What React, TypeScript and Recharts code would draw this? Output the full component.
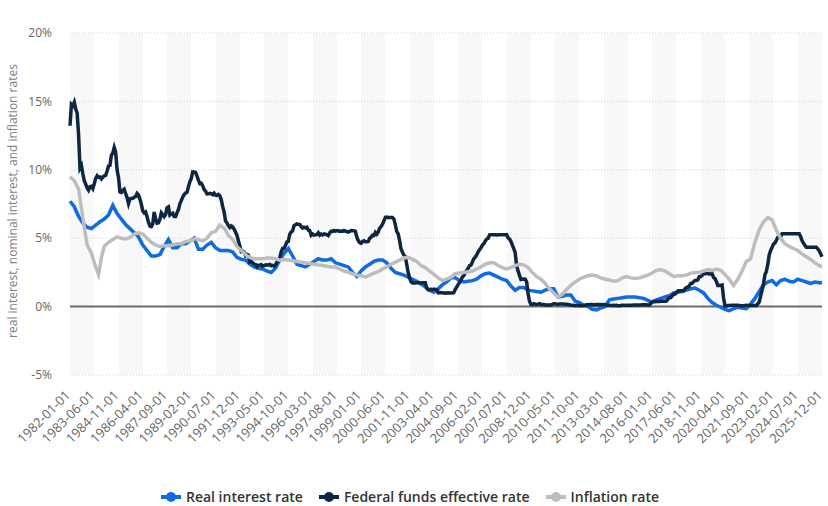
import { LineChart, Line, XAxis, YAxis, CartesianGrid, ReferenceLine } from "recharts";

const BLUE = "#0f6be2";
const NAVY = "#0d2642";
const GREY = "#bdbdbd";
const FONT = "'Open Sans', 'DejaVu Sans', sans-serif";

const tickLabels = [
  "1982-01-01", "1983-06-01", "1984-11-01", "1986-04-01", "1987-09-01", "1989-02-01",
  "1990-07-01", "1991-12-01", "1993-05-01", "1994-10-01", "1996-03-01", "1997-08-01",
  "1999-01-01", "2000-06-01", "2001-11-01", "2003-04-01", "2004-09-01", "2006-02-01",
  "2007-07-01", "2008-12-01", "2010-05-01", "2011-10-01", "2013-03-01", "2014-08-01",
  "2016-01-01", "2017-06-01", "2018-11-01", "2020-04-01", "2021-09-01", "2023-02-01",
  "2024-07-01", "2025-12-01",
];

const yTicks = [-5, 0, 5, 10, 15, 20];

// federal funds effective rate, monthly from 1982-01
const fedFunds = [
  13.22, 14.78, 14.68, 14.94, 14.45, 14.15, 12.59, 10.12, 10.31, 9.71, 9.2, 8.95,
  8.68, 8.51, 8.77, 8.8, 8.63, 8.98, 9.37, 9.56, 9.45, 9.48, 9.34, 9.47,
  9.56, 9.59, 9.91, 10.29, 10.32, 11.06, 11.23, 11.64, 11.3, 9.99, 9.43, 8.38,
  8.35, 8.5, 8.58, 8.27, 7.97, 7.53, 7.88, 7.9, 7.92, 7.99, 8.05, 8.27,
  8.14, 7.86, 7.48, 6.99, 6.85, 6.92, 6.56, 6.17, 5.89, 5.85, 6.04, 6.91,
  6.43, 6.1, 6.13, 6.37, 6.85, 6.73, 6.58, 6.73, 7.22, 7.29, 6.69, 6.77,
  6.83, 6.58, 6.58, 6.87, 7.09, 7.51, 7.75, 8.01, 8.19, 8.3, 8.35, 8.76,
  9.12, 9.36, 9.85, 9.84, 9.81, 9.53, 9.24, 8.99, 9.02, 8.84, 8.55, 8.45,
  8.23, 8.24, 8.28, 8.26, 8.18, 8.29, 8.15, 8.13, 8.2, 8.11, 7.81, 7.31,
  6.91, 6.25, 6.12, 5.91, 5.78, 5.9, 5.82, 5.66, 5.45, 5.21, 4.81, 4.43,
  4.03, 4.06, 3.98, 3.73, 3.82, 3.76, 3.25, 3.3, 3.22, 3.1, 3.09, 2.92,
  3.02, 3.03, 3.07, 2.96, 3.0, 3.04, 3.06, 3.03, 3.09, 2.99, 3.02, 2.96,
  3.05, 3.25, 3.34, 3.56, 4.01, 4.25, 4.26, 4.47, 4.73, 4.76, 5.29, 5.45,
  5.53, 5.92, 5.98, 6.05, 6.01, 6.0, 5.85, 5.74, 5.8, 5.76, 5.8, 5.6,
  5.56, 5.22, 5.31, 5.22, 5.24, 5.27, 5.4, 5.22, 5.3, 5.24, 5.31, 5.29,
  5.25, 5.19, 5.39, 5.51, 5.5, 5.56, 5.52, 5.54, 5.54, 5.5, 5.52, 5.5,
  5.56, 5.51, 5.49, 5.45, 5.49, 5.56, 5.54, 5.55, 5.51, 5.07, 4.83, 4.68,
  4.63, 4.76, 4.81, 4.74, 4.74, 4.76, 4.99, 5.07, 5.22, 5.2, 5.42, 5.3,
  5.45, 5.73, 5.85, 6.02, 6.27, 6.53, 6.54, 6.5, 6.52, 6.51, 6.51, 6.4,
  5.98, 5.49, 5.31, 4.8, 4.21, 3.97, 3.77, 3.65, 3.07, 2.49, 2.09, 1.82,
  1.73, 1.74, 1.73, 1.75, 1.75, 1.75, 1.73, 1.74, 1.75, 1.75, 1.34, 1.24,
  1.24, 1.26, 1.25, 1.26, 1.26, 1.22, 1.01, 1.03, 1.01, 1.01, 1.0, 0.98,
  1.0, 1.01, 1.0, 1.0, 1.0, 1.03, 1.26, 1.43, 1.61, 1.76, 1.93, 2.16,
  2.28, 2.5, 2.63, 2.79, 3.0, 3.04, 3.26, 3.5, 3.62, 3.78, 4.0, 4.16,
  4.29, 4.49, 4.59, 4.79, 4.94, 4.99, 5.24, 5.25, 5.25, 5.25, 5.25, 5.24,
  5.25, 5.26, 5.26, 5.25, 5.25, 5.25, 5.26, 5.02, 4.94, 4.76, 4.49, 4.24,
  3.94, 2.98, 2.61, 2.28, 1.98, 2.0, 2.01, 2.0, 1.81, 0.97, 0.39, 0.16,
  0.15, 0.22, 0.18, 0.15, 0.18, 0.21, 0.16, 0.16, 0.15, 0.12, 0.12, 0.12,
  0.11, 0.13, 0.16, 0.2, 0.2, 0.18, 0.18, 0.19, 0.19, 0.19, 0.19, 0.18,
  0.17, 0.16, 0.14, 0.1, 0.09, 0.09, 0.07, 0.1, 0.08, 0.07, 0.08, 0.07,
  0.08, 0.1, 0.13, 0.14, 0.16, 0.16, 0.16, 0.13, 0.14, 0.16, 0.16, 0.16,
  0.14, 0.15, 0.14, 0.15, 0.11, 0.09, 0.09, 0.08, 0.08, 0.09, 0.08, 0.09,
  0.07, 0.07, 0.08, 0.09, 0.09, 0.1, 0.09, 0.09, 0.09, 0.09, 0.09, 0.12,
  0.11, 0.11, 0.11, 0.12, 0.12, 0.13, 0.13, 0.14, 0.14, 0.12, 0.12, 0.24,
  0.34, 0.38, 0.36, 0.37, 0.37, 0.38, 0.39, 0.4, 0.4, 0.4, 0.41, 0.54,
  0.65, 0.66, 0.79, 0.9, 0.91, 1.04, 1.15, 1.16, 1.15, 1.15, 1.16, 1.3,
  1.41, 1.42, 1.51, 1.69, 1.7, 1.82, 1.91, 1.91, 1.95, 2.19, 2.2, 2.27,
  2.4, 2.4, 2.41, 2.42, 2.39, 2.38, 2.4, 2.13, 2.04, 1.83, 1.55, 1.55,
  1.55, 1.58, 0.65, 0.05, 0.05, 0.08, 0.09, 0.1, 0.09, 0.09, 0.09, 0.09,
  0.09, 0.08, 0.07, 0.07, 0.06, 0.08, 0.1, 0.09, 0.08, 0.08, 0.08, 0.08,
  0.08, 0.08, 0.2, 0.33, 0.77, 1.21, 1.68, 2.33, 2.56, 3.08, 3.78, 4.1,
  4.33, 4.57, 4.65, 4.83, 5.06, 5.08, 5.12, 5.33, 5.33, 5.33, 5.33, 5.33,
  5.33, 5.33, 5.33, 5.33, 5.33, 5.33, 5.33, 5.33, 5.13, 4.83, 4.64, 4.48,
  4.33, 4.33, 4.33, 4.33, 4.33, 4.33, 4.33, 4.33, 4.22, 4.09, 3.88, 3.64,
];

// real interest rate
const realRate: [string, number][] = [
  ["1982-01", 7.7], ["1982-04", 7.3], ["1982-07", 6.6], ["1982-10", 6.1],
  ["1983-01", 5.8], ["1983-04", 5.7], ["1983-07", 5.95], ["1983-10", 6.2],
  ["1984-01", 6.4], ["1984-04", 6.7], ["1984-07", 7.4], ["1984-10", 6.8],
  ["1985-01", 6.4], ["1985-04", 6.0], ["1985-07", 5.7], ["1985-10", 5.4],
  ["1986-01", 5.1], ["1986-04", 4.5], ["1986-07", 4.1], ["1986-10", 3.7],
  ["1987-01", 3.7], ["1987-04", 3.8], ["1987-07", 4.4], ["1987-10", 4.9],
  ["1988-01", 4.3], ["1988-04", 4.3], ["1988-07", 4.6], ["1988-10", 4.6],
  ["1989-01", 4.8], ["1989-04", 5.0], ["1989-07", 4.2], ["1989-10", 4.2],
  ["1990-01", 4.5], ["1990-04", 4.7], ["1990-07", 4.3], ["1990-10", 4.1],
  ["1991-01", 4.1], ["1991-04", 4.1], ["1991-07", 4.0], ["1991-10", 3.6],
  ["1992-01", 3.45], ["1992-04", 3.4], ["1992-07", 3.1], ["1992-10", 2.9],
  ["1993-01", 2.8], ["1993-04", 2.75], ["1993-07", 2.6], ["1993-10", 2.5],
  ["1994-01", 2.8], ["1994-04", 3.4], ["1994-07", 3.9], ["1994-10", 4.25],
  ["1995-01", 3.7], ["1995-04", 3.1], ["1995-07", 3.0], ["1995-10", 2.9],
  ["1996-01", 3.1], ["1996-04", 3.3], ["1996-07", 3.5], ["1996-10", 3.4],
  ["1997-01", 3.4], ["1997-04", 3.5], ["1997-07", 3.2], ["1997-10", 3.1],
  ["1998-01", 3.0], ["1998-04", 2.9], ["1998-07", 2.5], ["1998-10", 2.2],
  ["1999-01", 2.6], ["1999-04", 2.9], ["1999-07", 3.1], ["1999-10", 3.3],
  ["2000-01", 3.4], ["2000-04", 3.4], ["2000-07", 3.2], ["2000-10", 2.8],
  ["2001-01", 2.5], ["2001-04", 2.4], ["2001-07", 2.3], ["2001-10", 2.15],
  ["2002-01", 2.0], ["2002-04", 1.85], ["2002-07", 1.65], ["2002-10", 1.45],
  ["2003-01", 1.2], ["2003-04", 1.05], ["2003-07", 1.3], ["2003-10", 1.6],
  ["2004-01", 1.8], ["2004-04", 2.1], ["2004-07", 2.1], ["2004-10", 1.9],
  ["2005-01", 1.8], ["2005-04", 1.85], ["2005-07", 1.9], ["2005-10", 2.0],
  ["2006-01", 2.25], ["2006-04", 2.4], ["2006-07", 2.45], ["2006-10", 2.3],
  ["2007-01", 2.15], ["2007-04", 2.0], ["2007-07", 1.9], ["2007-10", 1.5],
  ["2008-01", 1.2], ["2008-04", 1.4], ["2008-07", 1.4], ["2008-10", 1.2],
  ["2009-01", 1.15], ["2009-04", 1.1], ["2009-07", 1.05], ["2009-10", 1.2],
  ["2010-01", 1.3], ["2010-04", 1.3], ["2010-07", 0.7], ["2010-10", 0.75],
  ["2011-01", 0.85], ["2011-04", 0.85], ["2011-07", 0.4], ["2011-10", 0.3],
  ["2012-01", 0.1], ["2012-04", 0.0], ["2012-07", -0.2], ["2012-10", -0.25],
  ["2013-01", -0.1], ["2013-04", 0.0], ["2013-07", 0.5], ["2013-10", 0.55],
  ["2014-01", 0.6], ["2014-04", 0.65], ["2014-07", 0.7], ["2014-10", 0.7],
  ["2015-01", 0.7], ["2015-04", 0.65], ["2015-07", 0.6], ["2015-10", 0.45],
  ["2016-01", 0.3], ["2016-04", 0.5], ["2016-07", 0.6], ["2016-10", 0.7],
  ["2017-01", 0.8], ["2017-04", 1.0], ["2017-07", 1.05], ["2017-10", 1.1],
  ["2018-01", 1.2], ["2018-04", 1.3], ["2018-07", 1.35], ["2018-10", 1.2],
  ["2019-01", 1.0], ["2019-04", 0.6], ["2019-07", 0.3], ["2019-10", 0.1],
  ["2020-01", -0.05], ["2020-04", -0.2], ["2020-07", -0.3], ["2020-10", -0.15],
  ["2021-01", -0.05], ["2021-04", -0.1], ["2021-07", -0.15], ["2021-10", 0.2],
  ["2022-01", 0.6], ["2022-04", 1.1], ["2022-07", 1.6], ["2022-10", 1.8],
  ["2023-01", 1.9], ["2023-04", 1.6], ["2023-07", 1.9], ["2023-10", 2.0],
  ["2024-01", 1.85], ["2024-04", 1.8], ["2024-07", 2.0], ["2024-10", 1.9],
  ["2025-01", 1.8], ["2025-04", 1.7], ["2025-07", 1.8], ["2025-10", 1.75],
  ["2025-12", 1.75],
];

// inflation rate
const inflation: [string, number][] = [
  ["1982-01", 9.5], ["1982-04", 9.2], ["1982-07", 8.6], ["1982-10", 6.5],
  ["1983-01", 4.5], ["1983-04", 3.9], ["1983-07", 2.9], ["1983-09", 2.35],
  ["1983-11", 3.6], ["1984-01", 4.4], ["1984-04", 4.7], ["1984-07", 4.9],
  ["1984-10", 5.1], ["1985-01", 5.0], ["1985-04", 4.95], ["1985-07", 5.05],
  ["1985-10", 5.3], ["1986-01", 5.4], ["1986-04", 5.3], ["1986-07", 5.0],
  ["1986-10", 4.7], ["1987-01", 4.5], ["1987-04", 4.4], ["1987-07", 4.45],
  ["1987-10", 4.45], ["1988-01", 4.5], ["1988-04", 4.6], ["1988-07", 4.6],
  ["1988-10", 4.75], ["1989-01", 4.8], ["1989-04", 4.95], ["1989-07", 4.9],
  ["1989-10", 4.8], ["1990-01", 5.0], ["1990-04", 5.4], ["1990-07", 5.5],
  ["1990-10", 5.95], ["1991-01", 5.75], ["1991-04", 5.2], ["1991-07", 4.9],
  ["1991-10", 4.4], ["1992-01", 4.1], ["1992-04", 3.8], ["1992-07", 3.6],
  ["1992-10", 3.5], ["1993-01", 3.5], ["1993-04", 3.5], ["1993-07", 3.55],
  ["1993-10", 3.55], ["1994-01", 3.5], ["1994-04", 3.4], ["1994-07", 3.45],
  ["1994-10", 3.4], ["1995-01", 3.35], ["1995-04", 3.3], ["1995-07", 3.25],
  ["1995-10", 3.2], ["1996-01", 3.15], ["1996-04", 3.1], ["1996-07", 3.05],
  ["1996-10", 3.0], ["1997-01", 2.95], ["1997-04", 2.9], ["1997-07", 2.9],
  ["1997-10", 2.75], ["1998-01", 2.6], ["1998-04", 2.5], ["1998-07", 2.4],
  ["1998-10", 2.3], ["1999-01", 2.25], ["1999-04", 2.15], ["1999-07", 2.3],
  ["1999-10", 2.45], ["2000-01", 2.55], ["2000-04", 2.75], ["2000-07", 2.9],
  ["2000-10", 3.1], ["2001-01", 3.25], ["2001-04", 3.4], ["2001-07", 3.55],
  ["2001-10", 3.6], ["2002-01", 3.45], ["2002-04", 3.3], ["2002-07", 3.0],
  ["2002-10", 2.85], ["2003-01", 2.6], ["2003-04", 2.35], ["2003-07", 2.1],
  ["2003-10", 1.9], ["2004-01", 2.0], ["2004-04", 2.15], ["2004-07", 2.4],
  ["2004-10", 2.45], ["2005-01", 2.5], ["2005-04", 2.55], ["2005-07", 2.6],
  ["2005-10", 2.75], ["2006-01", 2.9], ["2006-04", 3.1], ["2006-07", 3.2],
  ["2006-10", 3.2], ["2007-01", 3.0], ["2007-04", 2.85], ["2007-07", 2.75],
  ["2007-10", 2.85], ["2008-01", 3.0], ["2008-04", 3.1], ["2008-07", 3.05],
  ["2008-10", 2.85], ["2009-01", 2.5], ["2009-04", 2.2], ["2009-07", 2.0],
  ["2009-10", 1.7], ["2010-01", 1.3], ["2010-04", 1.0], ["2010-07", 0.7],
  ["2010-10", 0.9], ["2011-01", 1.25], ["2011-04", 1.55], ["2011-07", 1.8],
  ["2011-10", 2.0], ["2012-01", 2.15], ["2012-04", 2.25], ["2012-07", 2.3],
  ["2012-10", 2.25], ["2013-01", 2.1], ["2013-04", 2.0], ["2013-07", 1.95],
  ["2013-10", 1.85], ["2014-01", 1.9], ["2014-04", 2.1], ["2014-07", 2.2],
  ["2014-10", 2.1], ["2015-01", 2.05], ["2015-04", 2.1], ["2015-07", 2.2],
  ["2015-10", 2.3], ["2016-01", 2.45], ["2016-04", 2.65], ["2016-07", 2.7],
  ["2016-10", 2.6], ["2017-01", 2.4], ["2017-04", 2.2], ["2017-07", 2.25],
  ["2017-10", 2.25], ["2018-01", 2.3], ["2018-04", 2.45], ["2018-07", 2.5],
  ["2018-10", 2.5], ["2019-01", 2.6], ["2019-04", 2.7], ["2019-07", 2.65],
  ["2019-10", 2.75], ["2020-01", 2.65], ["2020-04", 2.35], ["2020-07", 2.0],
  ["2020-10", 1.55], ["2021-01", 2.0], ["2021-04", 2.6], ["2021-07", 3.3],
  ["2021-10", 3.5], ["2022-01", 4.7], ["2022-04", 5.6], ["2022-07", 6.2],
  ["2022-10", 6.5], ["2023-01", 6.35], ["2023-04", 5.6], ["2023-07", 5.0],
  ["2023-10", 4.6], ["2024-01", 4.4], ["2024-04", 4.25], ["2024-07", 4.1],
  ["2024-10", 3.85], ["2025-01", 3.65], ["2025-04", 3.45], ["2025-07", 3.2],
  ["2025-10", 3.0], ["2025-12", 2.9],
];

const monthIndex = (d: string) =>
  (Number(d.slice(0, 4)) - 1982) * 12 + Number(d.slice(5, 7)) - 1;

const fedData = fedFunds.map((v, i) => ({ m: i, v }));
const realData = realRate.map(([d, v]) => ({ m: monthIndex(d), v }));
const inflationData = inflation.map(([d, v]) => ({ m: monthIndex(d), v }));
const xTicks = tickLabels.map(monthIndex);

const legendItems = [
  { name: "Real interest rate", color: BLUE },
  { name: "Federal funds effective rate", color: NAVY },
  { name: "Inflation rate", color: GREY },
];

function XTick({ x, y, payload }: any) {
  const label = tickLabels[xTicks.indexOf(payload.value)];
  const tx = x + 1;
  const ty = y + 19;
  return (
    <text
      x={tx}
      y={ty}
      transform={`rotate(-45 ${tx} ${ty})`}
      textAnchor="end"
      fontSize={13}
      fill="#666"
      fontFamily={FONT}
    >
      {label}
    </text>
  );
}

function YTitle() {
  return (
    <text
      x={17}
      y={201}
      transform="rotate(-90 17 201)"
      textAnchor="middle"
      fontSize={12}
      fill="#808080"
      fontFamily={FONT}
    >
      real interest, nominal interest, and inflation rates
    </text>
  );
}

export default function App() {
  return (
    <div style={{ position: "absolute", left: 0, top: 0, width: 828, height: 506, background: "#fff" }}>
      <LineChart width={828} height={506} margin={{ top: 33, right: 6, bottom: 31, left: 0 }}>
        <CartesianGrid
          horizontal={false}
          stroke="transparent"
          verticalFill={["#f8f8f8", "#ffffff"]}
        />
        <CartesianGrid vertical={false} stroke="#d2d2d2" strokeDasharray="1 2" />
        <XAxis
          dataKey="m"
          type="number"
          domain={[0, 527]}
          ticks={xTicks}
          interval={0}
          tick={<XTick />}
          axisLine={false}
          tickLine={false}
          tickSize={0}
          height={100}
        />
        <YAxis
          type="number"
          domain={[-5, 20]}
          ticks={yTicks}
          tickFormatter={(v) => `${v}%`}
          tick={{ fill: "#666", fontSize: 12, fontFamily: FONT }}
          axisLine={false}
          tickLine={false}
          tickSize={6}
          tickMargin={12}
          width={70}
          label={{ content: () => <YTitle /> }}
        />
        <ReferenceLine y={0} stroke="#6b6b6b" strokeWidth={2} />
        <Line
          data={realData}
          dataKey="v"
          name="Real interest rate"
          stroke={BLUE}
          strokeWidth={3.5}
          dot={false}
          isAnimationActive={false}
        />
        <Line
          data={fedData}
          dataKey="v"
          name="Federal funds effective rate"
          stroke={NAVY}
          strokeWidth={3.5}
          dot={false}
          isAnimationActive={false}
        />
        <Line
          data={inflationData}
          dataKey="v"
          name="Inflation rate"
          stroke={GREY}
          strokeWidth={3.5}
          dot={false}
          isAnimationActive={false}
        />
      </LineChart>
      <div
        style={{
          position: "absolute",
          top: 487,
          left: 0,
          width: 820,
          display: "flex",
          justifyContent: "center",
          gap: 16,
          fontFamily: FONT,
          fontSize: 14,
          fontWeight: 600,
          color: "#333",
        }}
      >
        {legendItems.map((it) => (
          <div key={it.name} style={{ display: "flex", alignItems: "center", gap: 5 }}>
            <svg width={20} height={12}>
              <line x1={0} y1={6} x2={20} y2={6} stroke={it.color} strokeWidth={4} />
              <circle cx={10} cy={6} r={5} fill={it.color} />
            </svg>
            <span>{it.name}</span>
          </div>
        ))}
      </div>
    </div>
  );
}
